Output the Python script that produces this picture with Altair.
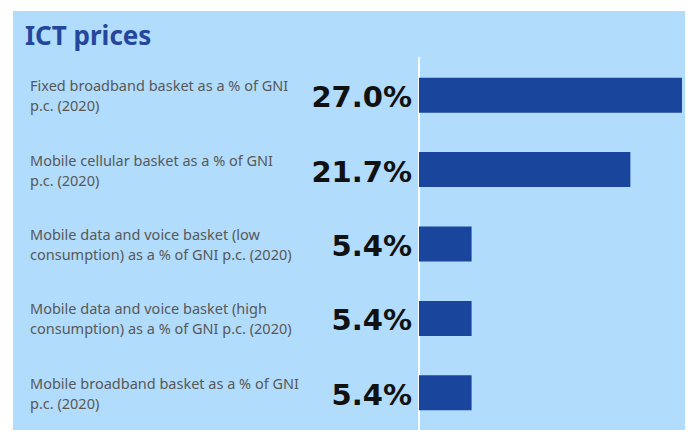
import altair as alt
import pandas as pd

categories = [
    "Fixed broadband basket as a % of GNI\np.c. (2020)",
    "Mobile cellular basket as a % of GNI\np.c. (2020)",
    "Mobile data and voice basket (low\nconsumption) as a % of GNI p.c. (2020)",
    "Mobile data and voice basket (high\nconsumption) as a % of GNI p.c. (2020)",
    "Mobile broadband basket as a % of GNI\np.c. (2020)",
]
values = [27.0, 21.7, 5.4, 5.4, 5.4]
value_labels = ["27.0%", "21.7%", "5.4%", "5.4%", "5.4%"]
title_text = "ICT prices"

df = pd.DataFrame({"cat": categories, "value": values, "lab": value_labels})

BG = "#b1dcfb"
BAR = "#1a459d"

W, H = 266, 372

y_enc = alt.Y("cat:N", sort=categories, axis=None,
              scale=alt.Scale(paddingInner=0, paddingOuter=0))
x_scale = alt.Scale(domain=[0, 27.31], nice=False, zero=True)

base = alt.Chart(df)

bg = alt.Chart(pd.DataFrame({"a": [0]})).mark_rect(color=BG).encode(
    x=alt.value(-406), x2=alt.value(W), y=alt.value(-47), y2=alt.value(H)
)

bars = base.mark_bar(color=BAR, size=35).encode(
    x=alt.X("value:Q", scale=x_scale, axis=None),
    y=y_enc,
)

zero = alt.Chart(pd.DataFrame({"z": [0]})).mark_rule(color="white", strokeWidth=2, opacity=0.9).encode(
    x=alt.X("z:Q", scale=x_scale, axis=None),
    y=alt.value(-1), y2=alt.value(H),
)

vals = base.mark_text(align="right", baseline="middle", dx=-7, dy=3,
                      font="DejaVu Sans", fontWeight="bold", fontSize=29,
                      color="#111111").encode(
    x=alt.datum(0),
    y=y_enc,
    text="lab:N",
)

labels = base.mark_text(align="left", baseline="middle", dy=-8, lineBreak="\n",
                        lineHeight=20, font="Noto Sans", fontSize=14.5,
                        color="#585858").encode(
    x=alt.value(-389),
    y=y_enc,
    text="cat:N",
)

title = alt.Chart(pd.DataFrame({"t": [title_text]})).mark_text(
    align="left", baseline="alphabetic", font="Noto Sans", fontWeight="bold",
    fontSize=26, color="#24479b").encode(
    x=alt.value(-394), y=alt.value(-13), text="t:N"
)

chart = alt.layer(bg, zero, bars, vals, labels, title).properties(
    width=W, height=H,
    padding={"left": 411, "top": 50, "right": 0, "bottom": 0},
    autosize=alt.AutoSizeParams(type="none"),
    background="white",
).configure_view(stroke=None)

chart.save("out.html", embed_options={"renderer": "svg", "actions": False})
